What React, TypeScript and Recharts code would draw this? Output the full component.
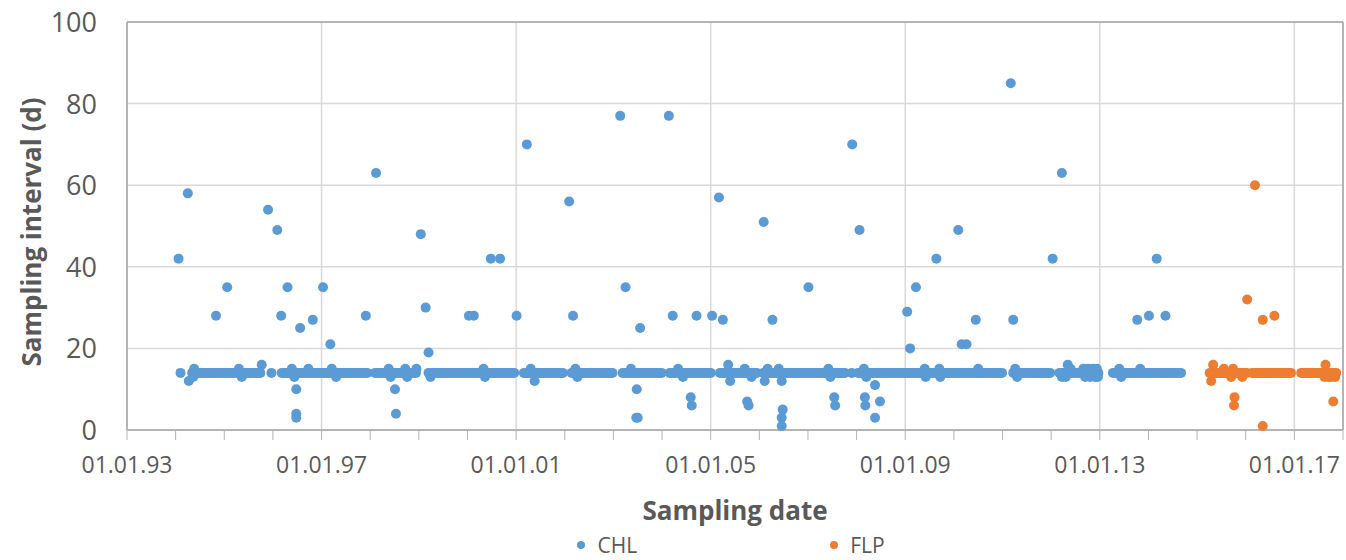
import * as React from "react";
import {
  ScatterChart,
  Scatter,
  XAxis,
  YAxis,
  CartesianGrid,
  ReferenceLine,
  Legend,
} from "recharts";

// Excel-like palette: blue/orange series, light grey grid, darker grey frame
const COR_CHL = "#5B9BD5";
const COR_FLP = "#ED7D31";
const COR_GRADE = "#D9D9D9";
const COR_MOLDURA = "#B4B4B4";
const COR_TEXTO = "#595959";
const FONTE = "'Open Sans', 'DejaVu Sans', sans-serif";

// Sampling interval of the regular (biweekly) band, in days
const INTERVALO_BANDA = 14;

// x = sampling date as decimal year, y = interval (d)
const chlBandDates = [
  1994.10,
  1994.34, 1994.38, 1994.42, 1994.46, 1994.50, 1994.54, 1994.58, 1994.62, 1994.66, 1994.70, 1994.74, 1994.78, 1994.82, 1994.86, 1994.90, 1994.94, 1994.98,
  1995.02, 1995.06, 1995.10, 1995.14, 1995.18, 1995.22, 1995.26, 1995.30, 1995.34, 1995.38, 1995.42, 1995.46, 1995.50, 1995.54, 1995.58, 1995.62, 1995.66, 1995.70, 1995.74,
  1995.97,
  1996.18, 1996.22, 1996.26, 1996.30, 1996.34, 1996.38, 1996.42, 1996.46, 1996.50, 1996.54, 1996.58, 1996.62, 1996.66, 1996.70, 1996.74, 1996.78, 1996.82, 1996.86, 1996.90, 1996.94, 1996.98,
  1997.02, 1997.06, 1997.10, 1997.14, 1997.18, 1997.22, 1997.26, 1997.30, 1997.34, 1997.38, 1997.42, 1997.46, 1997.50, 1997.54, 1997.58, 1997.62, 1997.66, 1997.70, 1997.74, 1997.78, 1997.82, 1997.86, 1997.90, 1997.94,
  1998.10, 1998.14, 1998.18, 1998.22, 1998.26, 1998.30, 1998.34, 1998.38, 1998.42, 1998.46, 1998.50, 1998.54, 1998.58, 1998.62, 1998.66, 1998.70, 1998.74, 1998.78, 1998.82, 1998.86, 1998.90, 1998.94,
  1999.20, 1999.24, 1999.28, 1999.32, 1999.36, 1999.40, 1999.44, 1999.48, 1999.52, 1999.56, 1999.60, 1999.64, 1999.68, 1999.72, 1999.76, 1999.80, 1999.84, 1999.88, 1999.92, 1999.96,
  2000.00, 2000.04, 2000.08, 2000.12, 2000.16, 2000.20, 2000.24, 2000.28, 2000.32, 2000.36, 2000.40, 2000.44, 2000.48, 2000.52, 2000.56, 2000.60, 2000.64, 2000.68, 2000.72, 2000.76, 2000.80, 2000.84, 2000.88, 2000.92, 2000.96,
  2001.16, 2001.20, 2001.24, 2001.28, 2001.32, 2001.36, 2001.40, 2001.44, 2001.48, 2001.52, 2001.56, 2001.60, 2001.64, 2001.68, 2001.72, 2001.76, 2001.80, 2001.84, 2001.88, 2001.92, 2001.96,
  2002.14, 2002.18, 2002.22, 2002.26, 2002.30, 2002.34, 2002.38, 2002.42, 2002.46, 2002.50, 2002.54, 2002.58, 2002.62, 2002.66, 2002.70, 2002.74, 2002.78, 2002.82, 2002.86, 2002.90, 2002.94, 2002.98,
  2003.19, 2003.23, 2003.27, 2003.31, 2003.35, 2003.39, 2003.43, 2003.47, 2003.51, 2003.55, 2003.59, 2003.63, 2003.67, 2003.71, 2003.75, 2003.79, 2003.83, 2003.87, 2003.91, 2003.95, 2003.99,
  2004.16, 2004.20, 2004.24, 2004.28, 2004.32, 2004.36, 2004.40, 2004.44, 2004.48, 2004.52, 2004.56, 2004.60, 2004.64, 2004.68, 2004.72, 2004.76, 2004.80, 2004.84, 2004.88, 2004.92, 2004.96, 2005.00,
  2005.19, 2005.23, 2005.27, 2005.31, 2005.35, 2005.39, 2005.43, 2005.47, 2005.51, 2005.55, 2005.59, 2005.63, 2005.67, 2005.71, 2005.75, 2005.79, 2005.83, 2005.87, 2005.91, 2005.95,
  2006.08, 2006.12, 2006.16, 2006.20, 2006.24, 2006.28, 2006.32, 2006.36, 2006.40, 2006.44, 2006.48, 2006.52, 2006.56, 2006.60, 2006.64, 2006.68, 2006.72, 2006.76, 2006.80, 2006.84, 2006.88, 2006.92, 2006.96,
  2007.00, 2007.04, 2007.08, 2007.12, 2007.16, 2007.20, 2007.24, 2007.28, 2007.32, 2007.36, 2007.40, 2007.44, 2007.48, 2007.52, 2007.56, 2007.60, 2007.64, 2007.68, 2007.72, 2007.76,
  2007.90,
  2008.03, 2008.07, 2008.11, 2008.15, 2008.19, 2008.23, 2008.27, 2008.31, 2008.35, 2008.39, 2008.43, 2008.47, 2008.51, 2008.55, 2008.59, 2008.63, 2008.67, 2008.71, 2008.75, 2008.79, 2008.83, 2008.87, 2008.91, 2008.95, 2008.99,
  2009.03, 2009.07, 2009.11, 2009.15, 2009.19, 2009.23, 2009.27, 2009.31, 2009.35, 2009.39, 2009.43, 2009.47, 2009.51, 2009.55, 2009.59, 2009.63, 2009.67, 2009.71, 2009.75, 2009.79, 2009.83, 2009.87, 2009.91, 2009.95, 2009.99,
  2010.03, 2010.07, 2010.11, 2010.15, 2010.19, 2010.23, 2010.27, 2010.31, 2010.35, 2010.39, 2010.43, 2010.47, 2010.51, 2010.55, 2010.59, 2010.63, 2010.67, 2010.71, 2010.75, 2010.79, 2010.83, 2010.87, 2010.91, 2010.95, 2010.99,
  2011.22, 2011.26, 2011.30, 2011.34, 2011.38, 2011.42, 2011.46, 2011.50, 2011.54, 2011.58, 2011.62, 2011.66, 2011.70, 2011.74, 2011.78, 2011.82, 2011.86, 2011.90, 2011.94, 2011.98,
  2012.17, 2012.21, 2012.25, 2012.29, 2012.33, 2012.37, 2012.41, 2012.45, 2012.49, 2012.53, 2012.57, 2012.61, 2012.65, 2012.69, 2012.73, 2012.77, 2012.81, 2012.85, 2012.89, 2012.93, 2012.97,
  2013.27, 2013.31, 2013.35, 2013.39, 2013.43, 2013.47, 2013.51, 2013.55, 2013.59, 2013.63, 2013.67, 2013.71, 2013.75, 2013.79, 2013.83, 2013.87, 2013.91, 2013.95, 2013.99,
  2014.03, 2014.07, 2014.11, 2014.15, 2014.19, 2014.23, 2014.27, 2014.31, 2014.35, 2014.39, 2014.43, 2014.47, 2014.51, 2014.55, 2014.59, 2014.63, 2014.67,
];

const chlOtherPoints: [number, number][] = [
  [1994.06, 42], [1994.25, 58], [1994.27, 12], [1994.36, 13], [1994.38, 15], [1994.83, 28], [1995.06, 35],
  [1995.30, 15], [1995.36, 13], [1995.77, 16], [1995.90, 54], [1996.09, 49], [1996.17, 28], [1996.30, 35],
  [1996.39, 15], [1996.44, 13], [1996.48, 10], [1996.48, 4], [1996.48, 3], [1996.56, 25], [1996.73, 15],
  [1996.82, 27], [1997.03, 35], [1997.18, 21], [1997.21, 15], [1997.30, 13], [1997.91, 28], [1998.12, 63],
  [1998.38, 15], [1998.42, 13], [1998.51, 10], [1998.53, 4], [1998.72, 15], [1998.76, 13], [1998.95, 15],
  [1999.04, 48], [1999.14, 30], [1999.20, 19], [1999.24, 13], [2000.03, 28], [2000.13, 28], [2000.33, 15],
  [2000.36, 13], [2000.48, 42], [2000.67, 42], [2001.01, 28], [2001.22, 70], [2001.30, 15], [2001.38, 12],
  [2002.09, 56], [2002.17, 28], [2002.22, 15], [2002.26, 13], [2003.14, 77], [2003.25, 35], [2003.36, 15],
  [2003.48, 10], [2003.47, 3], [2003.50, 3], [2003.55, 25], [2004.14, 77], [2004.22, 28], [2004.33, 15],
  [2004.43, 13], [2004.59, 8], [2004.61, 6], [2004.71, 28], [2005.03, 28], [2005.17, 57], [2005.25, 27],
  [2005.36, 16], [2005.40, 12], [2005.70, 15], [2005.75, 7], [2005.78, 6], [2005.84, 13], [2006.09, 51],
  [2006.11, 12], [2006.17, 15], [2006.27, 27], [2006.40, 15], [2006.46, 12], [2006.48, 5], [2006.46, 3],
  [2006.46, 1], [2007.01, 35], [2007.42, 15], [2007.46, 13], [2007.54, 8], [2007.56, 6], [2007.91, 70],
  [2008.06, 49], [2008.15, 15], [2008.20, 13], [2008.17, 8], [2008.18, 6], [2008.38, 11], [2008.38, 3],
  [2008.48, 7], [2009.04, 29], [2009.10, 20], [2009.22, 35], [2009.40, 15], [2009.42, 13], [2009.64, 42],
  [2009.70, 15], [2009.72, 13], [2010.09, 49], [2010.16, 21], [2010.26, 21], [2010.45, 27], [2010.50, 15],
  [2011.17, 85], [2011.22, 27], [2011.26, 15], [2011.30, 13], [2012.03, 42], [2012.22, 63], [2012.22, 13],
  [2012.30, 13], [2012.34, 16], [2012.40, 15], [2012.66, 15], [2012.70, 13], [2012.76, 15], [2012.80, 13],
  [2012.86, 15], [2012.90, 13], [2012.94, 15], [2012.96, 13], [2013.40, 15], [2013.44, 13], [2013.77, 27],
  [2013.83, 15], [2014.01, 28], [2014.17, 42], [2014.35, 28],
];

const flpBandDates = [
  2015.26, 2015.30, 2015.34, 2015.38, 2015.42, 2015.46, 2015.50, 2015.54, 2015.58, 2015.62, 2015.66, 2015.70, 2015.74, 2015.78, 2015.82, 2015.86, 2015.90, 2015.94, 2015.98, 2016.02,
  2016.13, 2016.17, 2016.21, 2016.25, 2016.29, 2016.33, 2016.37, 2016.41, 2016.45, 2016.49, 2016.53, 2016.57, 2016.61, 2016.65, 2016.69, 2016.73, 2016.77, 2016.81, 2016.85, 2016.89, 2016.93,
  2017.14, 2017.18, 2017.22, 2017.26, 2017.30, 2017.34, 2017.38, 2017.42, 2017.46, 2017.50, 2017.54, 2017.58, 2017.62, 2017.66, 2017.70, 2017.74, 2017.78, 2017.82, 2017.86,
];

const flpOtherPoints: [number, number][] = [
  [2015.29, 12], [2015.33, 16], [2015.55, 15], [2015.70, 13], [2015.74, 15], [2015.93, 13], [2015.77, 8],
  [2015.76, 6], [2016.03, 32], [2016.19, 60], [2016.35, 27], [2016.35, 1], [2016.59, 28], [2017.62, 13],
  [2017.64, 16], [2017.70, 13], [2017.76, 13], [2017.84, 13], [2017.80, 7],
];

const yTicks = [0, 20, 40, 60, 80, 100];
const yearTicks = [
  1993, 1994, 1995, 1996, 1997, 1998, 1999, 2000, 2001, 2002, 2003, 2004, 2005,
  2006, 2007, 2008, 2009, 2010, 2011, 2012, 2013, 2014, 2015, 2016, 2017, 2018,
];
const labelledYears = [1993, 1997, 2001, 2005, 2009, 2013, 2017];

const montar = (band: number[], others: [number, number][]) => [
  ...band.map((x) => ({ x, y: INTERVALO_BANDA })),
  ...others.map(([x, y]) => ({ x, y })),
];
const chlData = montar(chlBandDates, chlOtherPoints);
const flpData = montar(flpBandDates, flpOtherPoints);

function XTick({ x, y, payload }: { x?: number; y?: number; payload?: { value: number } }) {
  const year = payload?.value ?? 0;
  if (!labelledYears.includes(year)) return <g />;
  return (
    <text x={x} y={(y ?? 0) + 31} textAnchor="middle" fontSize={23} fill={COR_TEXTO} fontFamily={FONTE}>
      {`01.01.${String(year).slice(2)}`}
    </text>
  );
}

function YTick({ y, payload }: { y?: number; payload?: { value: number } }) {
  return (
    <text x={97} y={(y ?? 0) + 10} textAnchor="end" fontSize={27} fill={COR_TEXTO} fontFamily={FONTE}>
      {payload?.value}
    </text>
  );
}

function Ponto(cor: string) {
  return (p: { cx?: number; cy?: number }) => <circle cx={p.cx} cy={p.cy} r={5} fill={cor} />;
}

function LegendaCustom({ payload }: { payload?: { value: string; color?: string }[] }) {
  return (
    <div
      style={{
        display: "flex",
        justifyContent: "center",
        alignItems: "center",
        gap: 193,
        paddingLeft: 116,
        height: 30,
        boxSizing: "border-box",
        fontFamily: FONTE,
        fontSize: 21,
        color: COR_TEXTO,
      }}
    >
      {(payload ?? []).map((p) => (
        <span key={p.value} style={{ display: "flex", alignItems: "center", gap: 12 }}>
          <span style={{ width: 8, height: 8, borderRadius: 4, backgroundColor: p.color }} />
          {p.value}
        </span>
      ))}
    </div>
  );
}

export default function App() {
  return (
    <div style={{ position: "absolute", left: 0, top: 0, fontFamily: FONTE }}>
      <ScatterChart width={1346} height={560} margin={{ top: 22, right: 3, bottom: 0, left: 0 }}>
        <CartesianGrid vertical={false} stroke={COR_GRADE} strokeWidth={1.5} />
        {labelledYears.slice(1).map((ano) => (
          <ReferenceLine key={ano} x={ano} stroke={COR_GRADE} strokeWidth={1.5} />
        ))}
        <ReferenceLine y={100} stroke={COR_MOLDURA} strokeWidth={2} />
        <ReferenceLine x={2018} stroke={COR_MOLDURA} strokeWidth={2} />
        <XAxis
          type="number"
          dataKey="x"
          domain={[1993, 2018]}
          ticks={yearTicks}
          interval={0}
          height={100}
          tick={<XTick />}
          tickSize={10}
          tickLine={{ stroke: COR_MOLDURA }}
          axisLine={{ stroke: COR_MOLDURA, strokeWidth: 2 }}
          label={{
            content: ({ viewBox }: any) => (
              <text
                x={viewBox.x + viewBox.width / 2}
                y={viewBox.y + 90}
                textAnchor="middle"
                fontSize={26}
                fontWeight="bold"
                fill={COR_TEXTO}
                fontFamily={FONTE}
              >
                Sampling date
              </text>
            ),
          }}
        />
        <YAxis
          type="number"
          dataKey="y"
          domain={[0, 100]}
          ticks={yTicks}
          width={127}
          tick={<YTick />}
          tickLine={false}
          axisLine={{ stroke: COR_MOLDURA, strokeWidth: 2 }}
          label={{
            content: ({ viewBox }: any) => {
              const cx = viewBox.x + 31;
              const cy = viewBox.y + viewBox.height / 2 + 6;
              return (
                <text
                  transform={`translate(${cx},${cy}) rotate(-90)`}
                  textAnchor="middle"
                  dominantBaseline="central"
                  fontSize={26}
                  fontWeight="bold"
                  fill={COR_TEXTO}
                  fontFamily={FONTE}
                >
                  Sampling interval (d)
                </text>
              );
            },
          }}
        />
        <Legend verticalAlign="bottom" height={30} content={<LegendaCustom />} wrapperStyle={{ left: 0, width: 1346 }} />
        <Scatter name="CHL" data={chlData} fill={COR_CHL} shape={Ponto(COR_CHL)} isAnimationActive={false} />
        <Scatter name="FLP" data={flpData} fill={COR_FLP} shape={Ponto(COR_FLP)} isAnimationActive={false} />
      </ScatterChart>
    </div>
  );
}
